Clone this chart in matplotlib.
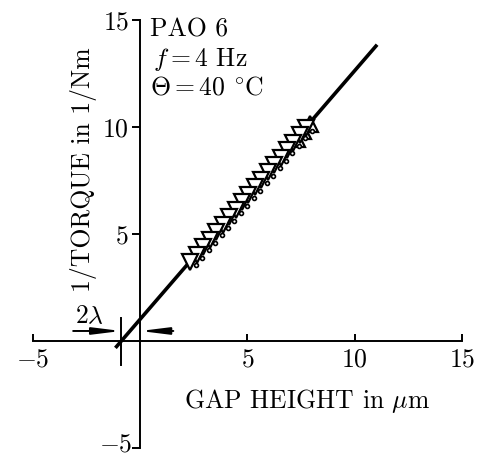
import matplotlib
matplotlib.use('Agg')
import matplotlib.pyplot as plt

plt.rcParams['font.family'] = 'serif'
plt.rcParams['font.serif'] = ['cmr10', 'DejaVu Serif']
plt.rcParams['mathtext.fontset'] = 'cm'
plt.rcParams['axes.unicode_minus'] = False

# measured points, decreasing-gap sweep listed first (drawn top to bottom)
gap_down = [7.75, 7.45, 7.15, 6.85, 6.55, 6.25, 5.95, 5.65, 5.35, 5.05, 4.75,
            4.45, 4.15, 3.85, 3.55, 3.25, 2.95, 2.65, 2.35]
torque_down = [9.95, 9.62, 9.27, 8.93, 8.57, 8.22, 7.88, 7.52, 7.18, 6.83,
               6.48, 6.13, 5.78, 5.44, 5.09, 4.74, 4.39, 4.04, 3.7]
gap_up = [7.3, 7.6, 7.9]
torque_up = [9.45, 9.8, 10.15]
gap_dot = [8.0, 7.7, 7.4, 7.1, 6.8, 6.5, 6.2, 5.9, 5.6, 5.3, 5.0, 4.7, 4.4,
           4.1, 3.8, 3.5, 3.2, 2.9, 2.6]
torque_dot = [9.8, 9.47, 9.12, 8.78, 8.42, 8.07, 7.73, 7.37, 7.03, 6.68, 6.33,
              5.98, 5.63, 5.29, 4.94, 4.59, 4.24, 3.89, 3.55]
fit_x = [-1.15, 11.05]
fit_y = [-0.32, 13.85]
lam_x = -0.88  # x-intercept of the fit (= -2 lambda)

xticks = [-5, 5, 10, 15]
yticks = [-5, 5, 10, 15]

FS = 18.5

fig = plt.figure(figsize=(4.79, 4.57), dpi=100)
ax = fig.add_axes([0, 0, 1, 1])
ax.set_xlim(-6.53, 15.8)
ax.set_ylim(-5.42, 15.94)

for s in ('top', 'right'):
    ax.spines[s].set_visible(False)
ax.spines['left'].set_position(('data', 0))
ax.spines['bottom'].set_position(('data', 0))
ax.spines['left'].set_bounds(-5, 15)
ax.spines['bottom'].set_bounds(-5, 15)
for s in ('left', 'bottom'):
    ax.spines[s].set_linewidth(1.4)

ax.set_xticks(xticks)
ax.set_xticklabels([f'${v}$' for v in xticks])
ax.set_yticks(yticks)
# the lowest label sits at the very bottom edge, placed by hand below
ax.set_yticklabels(['' if v == -5 else f'${v}$' for v in yticks])
ax.tick_params(axis='x', direction='in', length=5, width=1.4, labelsize=FS, pad=5)
ax.tick_params(axis='y', direction='out', length=6, width=1.4, labelsize=FS, pad=2)
ax.text(-0.37, -5.4, f'${yticks[0]}$', fontsize=FS, ha='right', va='bottom')

ax.plot(fit_x, fit_y, color='black', lw=2.6, solid_capstyle='butt', zorder=2)
ax.plot(gap_up, torque_up, linestyle='none', marker='^', ms=12,
        mfc='white', mec='black', mew=1.6, zorder=3)
ax.plot(gap_dot, torque_dot, linestyle='none', marker='o', ms=2.8,
        mfc='white', mec='black', mew=1.2, zorder=3)
ax.plot(gap_down, torque_down, linestyle='none', marker='v', ms=12,
        mfc='white', mec='black', mew=1.6, zorder=4)

# 2 lambda marker
ax.plot([lam_x, lam_x], [-1.12, 1.07], color='black', lw=1.4)
head = '-|>,head_length=1.05,head_width=0.13'
ax.annotate('', xy=(lam_x, 0.47), xytext=(-3.12, 0.47),
            arrowprops=dict(arrowstyle=head, color='black', lw=1.4,
                            mutation_scale=16, shrinkA=0, shrinkB=0))
ax.annotate('', xy=(0, 0.47), xytext=(1.55, 0.47),
            arrowprops=dict(arrowstyle=head, color='black', lw=1.4,
                            mutation_scale=16, shrinkA=0, shrinkB=0))
ax.text(-3.05, 0.82, r'$2\lambda$', fontsize=FS, ha='left', va='baseline')

ax.text(0.47, 14.25, 'PAO 6', fontsize=FS, ha='left', va='baseline')
ax.text(0.6, 12.85, r'$f = 4$ Hz', fontsize=FS, ha='left', va='baseline')
ax.text(0.47, 11.5, r'$\Theta = 40$ $^{\circ}$C', fontsize=FS, ha='left', va='baseline')

ax.text(-2.66, 8.0, '1/TORQUE in 1/Nm', fontsize=FS, rotation=90,
        ha='center', va='center')
ax.text(7.81, -3.13, r'GAP HEIGHT in $\mu$m', fontsize=FS, ha='center', va='baseline')

fig.savefig('out.png', dpi=100)
